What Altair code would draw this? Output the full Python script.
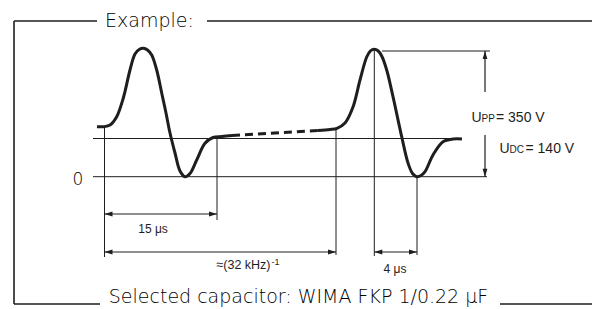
import altair as alt
import pandas as pd

# ---------------- data (diagram units, x to the right, y downward) ----------------
# first pulse (solid)
pulse1_x = [97, 104, 110, 116.7, 123.3, 130, 135, 139.5, 143.3, 147.5, 151.7, 156.7,
            161.7, 166, 170, 175, 180, 185, 190, 196.7, 205, 213, 222, 232]
pulse1_y = [126.7, 126.7, 125, 116.7, 98, 70, 54, 49.3, 48.3, 50, 55, 70,
            93, 113, 133, 153, 171, 176.7, 173.5, 160, 143.3, 137.5, 136.5, 135.5]
# dashed interval between pulses
gap_x = [232, 318]
gap_y = [135.5, 130.5]
# second pulse (solid)
pulse2_x = [318, 330, 337, 345, 353, 360, 366.7, 370.5, 374.3, 378, 381.7, 386.7,
            393, 401.7, 408, 412.5, 416.7, 421, 425, 433, 443, 453, 462]
pulse2_y = [130.5, 129.5, 128.3, 123, 107, 80, 57, 50.8, 49.3, 50.8, 56, 70,
            96.7, 136.7, 163, 173.5, 176.7, 175.5, 171.7, 155, 141.7, 139, 139]

# frame segments: x1, y1, x2, y2
frame_x1 = [14, 14, 207, 14, 500]
frame_y1 = [21, 21, 21, 304, 304]
frame_x2 = [14, 97, 600, 100, 600]
frame_y2 = [304, 21, 21, 304, 304]

# thin guide lines: x1, y1, x2, y2
guide_x1 = [93, 93, 382, 104.5, 217, 336, 374.3, 417]
guide_y1 = [138.5, 176.7, 51, 126.7, 137.3, 128.3, 49.3, 176.7]
guide_x2 = [462, 487, 490, 104.5, 217, 336, 374.3, 417]
guide_y2 = [138.5, 176.7, 51, 257, 220, 255, 256, 255]

# horizontal dimension arrows: from x1 to x2 at y
hdim_x1 = [104.5, 104.5, 374.3]
hdim_x2 = [217, 336, 417]
hdim_y = [214, 252, 252]

# vertical dimension arrow (split around its label): x, top tip, bottom tip
vdim_x = 485
vdim_top = 51
vdim_bottom = 176.7
vdim_gap = [92, 135]

# labels
title_text = "Example:"
footer_text = "Selected capacitor: WIMA FKP 1/0.22 \u03bcF"
zero_text = "0"
small_labels = ["15 \u03bcs", "4 \u03bcs"]
small_x = [153, 395]
small_y = [232.5, 273]
freq_text = "\u2248(32 kHz)"
freq_sup = "-1"

# ---------------- helpers ----------------
X0, X1 = 8, 592
Y0, Y1 = 8, 309
W, H = X1 - X0, Y1 - Y0
xs = alt.Scale(domain=[X0, X1], range=[0, W], nice=False, zero=False)
ys = alt.Scale(domain=[Y0, Y1], range=[0, H], nice=False, zero=False)
INK = "#1e1e1e"


def X(f):
    return alt.X(f, type="quantitative", scale=xs, axis=None)


def Y(f):
    return alt.Y(f, type="quantitative", scale=ys, axis=None)


def segs(x1, y1, x2, y2):
    return pd.DataFrame({"x": x1, "y": y1, "x2": x2, "y2": y2})


def seg_layer(df, width):
    return alt.Chart(df).mark_rule(color=INK, strokeWidth=width).encode(
        x=X("x"), y=Y("y"), x2="x2", y2="y2")


def text_layer(labels, xv, yv, **kw):
    df = pd.DataFrame({"label": labels, "x": xv, "y": yv})
    return alt.Chart(df).mark_text(**kw).encode(x=X("x"), y=Y("y"), text="label:N")


# frame and guides
frame = seg_layer(segs(frame_x1, frame_y1, frame_x2, frame_y2), 1.6)
guides = seg_layer(segs(guide_x1, guide_y1, guide_x2, guide_y2), 1)

# dimension lines
dim_x1 = hdim_x1 + [vdim_x, vdim_x]
dim_x2 = hdim_x2 + [vdim_x, vdim_x]
dim_y1 = hdim_y + [vdim_top, vdim_gap[1]]
dim_y2 = hdim_y + [vdim_gap[0], vdim_bottom]
dims = seg_layer(segs(dim_x1, dim_y1, dim_x2, dim_y2), 1.2)

# arrowheads (tip at the line end)
AL = 4  # half length of the arrow head
heads = []
for a, b, y in zip(hdim_x1, hdim_x2, hdim_y):
    heads.append((a + AL, y, 180))
    heads.append((b - AL, y, 0))
heads.append((vdim_x, vdim_top + AL, 270))
heads.append((vdim_x, vdim_bottom - AL, 90))
heads_df = pd.DataFrame(heads, columns=["x", "y", "ang"])
arrow = alt.Chart(heads_df).mark_point(
    shape="M1,0L-1,-0.6L-1,0.6Z", filled=True, fill=INK, stroke=None,
    size=64, opacity=1).encode(
    x=X("x"), y=Y("y"), angle=alt.Angle("ang:Q", scale=None))

# waveform
p1 = pd.DataFrame({"x": pulse1_x, "y": pulse1_y})
p2 = pd.DataFrame({"x": pulse2_x, "y": pulse2_y})
gp = pd.DataFrame({"x": gap_x, "y": gap_y})
wave1 = alt.Chart(p1).mark_line(color=INK, strokeWidth=3, interpolate="catmull-rom").encode(
    x=X("x"), y=Y("y"))
wave2 = alt.Chart(p2).mark_line(color=INK, strokeWidth=3, interpolate="catmull-rom").encode(
    x=X("x"), y=Y("y"))
wgap = alt.Chart(gp).mark_line(color=INK, strokeWidth=3, strokeDash=[8, 5]).encode(
    x=X("x"), y=Y("y"))

# texts
BIG = dict(font="DejaVu Sans", fontWeight=200, color="#000000", baseline="alphabetic")
SMALL = dict(font="Liberation Sans", color=INK, baseline="alphabetic")
t_title = text_layer([title_text], [149.5], [26.7], align="center", fontSize=19, **BIG)
t_footer = text_layer([footer_text], [298.5], [303], align="center", fontSize=19, **BIG)
t_zero = text_layer([zero_text], [78], [185], align="center", fontSize=17, **BIG)
t_small = text_layer(small_labels, small_x, small_y, align="center", fontSize=12, **SMALL)
t_freq = text_layer([freq_text], [270.5], [269], align="right", fontSize=12.5, **SMALL)
t_sup = text_layer([freq_sup], [271.5], [264.5], align="left", fontSize=9, **SMALL)
t_u = text_layer(["U", "U"], [471.5, 499.5], [121.7, 153.3], align="left", fontSize=14, **SMALL)
t_sub = text_layer(["PP", "DC"], [481.5, 509.5], [121.7, 153.3], align="left", fontSize=10, **SMALL)
t_val = text_layer(["= 350 V", "= 140 V"], [496, 525.5], [121.7, 153.3], align="left",
                   fontSize=14, **SMALL)

chart = alt.layer(
    frame, guides, dims, arrow, wave1, wgap, wave2,
    t_title, t_footer, t_zero, t_small, t_freq, t_sup, t_u, t_sub, t_val
).properties(
    width=W, height=H, padding=0, background="white",
    autosize=alt.AutoSizeParams(type="fit", contains="padding")
).configure_view(strokeWidth=0)

chart.save("out.html", embed_options={"renderer": "svg", "actions": False})
